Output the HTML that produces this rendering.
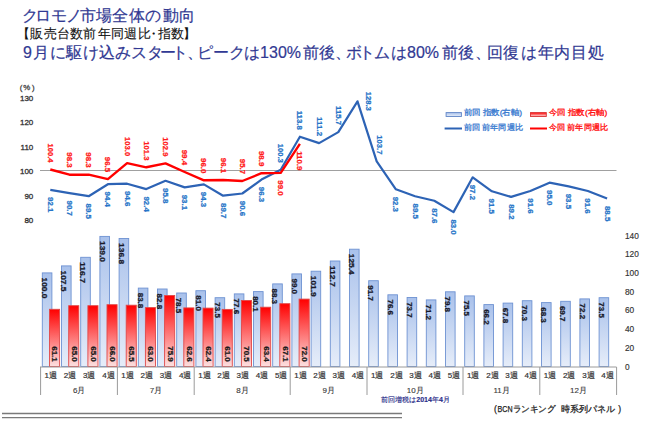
<!DOCTYPE html>
<html><head><meta charset="utf-8"><style>
html,body{margin:0;padding:0;background:#fff;}
body{width:650px;height:422px;overflow:hidden;position:relative;font-family:"Liberation Sans",sans-serif;}
.t{position:absolute;white-space:nowrap;line-height:1;}
svg{position:absolute;left:0;top:0;}
svg text{font-family:"Liberation Sans",sans-serif;}
</style></head><body>

<svg width="650" height="422" viewBox="0 0 650 422">
<defs>
<linearGradient id="gb" x1="0" y1="0" x2="0" y2="1"><stop offset="0" stop-color="#a9c1eb"/><stop offset="1" stop-color="#e6edf9"/></linearGradient>
<linearGradient id="gr" x1="0" y1="0" x2="0" y2="1"><stop offset="0" stop-color="#ff0000"/><stop offset="1" stop-color="#fce0e0"/></linearGradient>
</defs>
<text x="22 35.2 51.2 65.5 79.5 95.8 111.8 129.4 145.2 162.8 179.2" y="20.5" font-size="15.5" fill="#313993" stroke="#313993" stroke-width="0.2" font-weight="normal">クロモノ市場全体の動向</text>
<text x="16.6 29.8 43.7 56.8 70.1 83 98 110.8 124.2 137.5 146.9 158.4 170.6 183.2" y="37.5" font-size="12.5" fill="#111" stroke="#111" stroke-width="0.1" font-weight="normal">【販売台数前年同週比・指数】</text>
<text x="23 32.8 49.5 66.2 83.3 98.7 115.3 130.9 146.6 159.6 172 187.1 196.8 212.6 228.5 243.5 302.6 319.2 335.3 346.2 358.6 374.1 391.3 441.5 458.1 474.8 486.8 503.2 520.6 537.9 554.1 571.4 588.2" y="57.5" font-size="16" fill="#313993" stroke="#313993" stroke-width="0.2" font-weight="normal">9月に駆け込みスタート、ピークは前後、ボトムは前後、回復は年内目処</text>
<text x="260.1" y="57.5" font-size="16" fill="#313993" stroke="#313993" stroke-width="0.2" font-weight="normal">130%</text>
<text x="407" y="57.5" font-size="16" fill="#313993" stroke="#313993" stroke-width="0.2" font-weight="normal">80%</text>
<text x="33.3" y="100.7" font-size="8" fill="#333" stroke="#333" stroke-width="0.3" text-anchor="end">130</text>
<text x="33.3" y="125.2" font-size="8" fill="#333" stroke="#333" stroke-width="0.3" text-anchor="end">120</text>
<text x="33.3" y="149.6" font-size="8" fill="#333" stroke="#333" stroke-width="0.3" text-anchor="end">110</text>
<text x="33.3" y="174.1" font-size="8" fill="#333" stroke="#333" stroke-width="0.3" text-anchor="end">100</text>
<text x="33.3" y="198.6" font-size="8" fill="#333" stroke="#333" stroke-width="0.3" text-anchor="end">90</text>
<text x="33.3" y="223.0" font-size="8" fill="#333" stroke="#333" stroke-width="0.3" text-anchor="end">80</text>
<text x="19.8 23.2 32" y="90" font-size="7.8" fill="#444" stroke="#444" stroke-width="0.3">(%)</text>
<line x1="40" y1="170.5" x2="616.5" y2="170.5" stroke="#a0a0a0" stroke-width="1"/>
<rect x="42.3" y="272.9" width="9.6" height="93.6" fill="url(#gb)" stroke="#6e92d2" stroke-width="0.9"/>
<rect x="61.5" y="265.9" width="9.6" height="100.6" fill="url(#gb)" stroke="#6e92d2" stroke-width="0.9"/>
<rect x="80.7" y="257.3" width="9.6" height="109.2" fill="url(#gb)" stroke="#6e92d2" stroke-width="0.9"/>
<rect x="99.9" y="236.4" width="9.6" height="130.1" fill="url(#gb)" stroke="#6e92d2" stroke-width="0.9"/>
<rect x="119.1" y="238.5" width="9.6" height="128.0" fill="url(#gb)" stroke="#6e92d2" stroke-width="0.9"/>
<rect x="138.3" y="288.1" width="9.6" height="78.4" fill="url(#gb)" stroke="#6e92d2" stroke-width="0.9"/>
<rect x="157.5" y="289.0" width="9.6" height="77.5" fill="url(#gb)" stroke="#6e92d2" stroke-width="0.9"/>
<rect x="176.7" y="293.0" width="9.6" height="73.5" fill="url(#gb)" stroke="#6e92d2" stroke-width="0.9"/>
<rect x="195.9" y="290.7" width="9.6" height="75.8" fill="url(#gb)" stroke="#6e92d2" stroke-width="0.9"/>
<rect x="215.1" y="297.7" width="9.6" height="68.8" fill="url(#gb)" stroke="#6e92d2" stroke-width="0.9"/>
<rect x="234.3" y="293.9" width="9.6" height="72.6" fill="url(#gb)" stroke="#6e92d2" stroke-width="0.9"/>
<rect x="253.5" y="291.6" width="9.6" height="74.9" fill="url(#gb)" stroke="#6e92d2" stroke-width="0.9"/>
<rect x="272.7" y="283.9" width="9.6" height="82.6" fill="url(#gb)" stroke="#6e92d2" stroke-width="0.9"/>
<rect x="291.9" y="273.9" width="9.6" height="92.6" fill="url(#gb)" stroke="#6e92d2" stroke-width="0.9"/>
<rect x="311.1" y="271.2" width="9.6" height="95.3" fill="url(#gb)" stroke="#6e92d2" stroke-width="0.9"/>
<rect x="330.3" y="261.0" width="9.6" height="105.5" fill="url(#gb)" stroke="#6e92d2" stroke-width="0.9"/>
<rect x="349.5" y="249.2" width="9.6" height="117.3" fill="url(#gb)" stroke="#6e92d2" stroke-width="0.9"/>
<rect x="368.7" y="280.7" width="9.6" height="85.8" fill="url(#gb)" stroke="#6e92d2" stroke-width="0.9"/>
<rect x="387.9" y="294.8" width="9.6" height="71.7" fill="url(#gb)" stroke="#6e92d2" stroke-width="0.9"/>
<rect x="407.1" y="297.5" width="9.6" height="69.0" fill="url(#gb)" stroke="#6e92d2" stroke-width="0.9"/>
<rect x="426.3" y="299.9" width="9.6" height="66.6" fill="url(#gb)" stroke="#6e92d2" stroke-width="0.9"/>
<rect x="445.5" y="291.8" width="9.6" height="74.7" fill="url(#gb)" stroke="#6e92d2" stroke-width="0.9"/>
<rect x="464.7" y="295.9" width="9.6" height="70.6" fill="url(#gb)" stroke="#6e92d2" stroke-width="0.9"/>
<rect x="483.9" y="304.6" width="9.6" height="61.9" fill="url(#gb)" stroke="#6e92d2" stroke-width="0.9"/>
<rect x="503.1" y="303.1" width="9.6" height="63.4" fill="url(#gb)" stroke="#6e92d2" stroke-width="0.9"/>
<rect x="522.3" y="300.7" width="9.6" height="65.8" fill="url(#gb)" stroke="#6e92d2" stroke-width="0.9"/>
<rect x="541.5" y="302.6" width="9.6" height="63.9" fill="url(#gb)" stroke="#6e92d2" stroke-width="0.9"/>
<rect x="560.7" y="301.3" width="9.6" height="65.2" fill="url(#gb)" stroke="#6e92d2" stroke-width="0.9"/>
<rect x="579.9" y="298.9" width="9.6" height="67.6" fill="url(#gb)" stroke="#6e92d2" stroke-width="0.9"/>
<rect x="599.1" y="297.7" width="9.6" height="68.8" fill="url(#gb)" stroke="#6e92d2" stroke-width="0.9"/>
<rect x="49.5" y="309.3" width="10.1" height="57.2" fill="url(#gr)" stroke="#e04848" stroke-width="0.9"/>
<rect x="68.7" y="305.7" width="10.1" height="60.8" fill="url(#gr)" stroke="#e04848" stroke-width="0.9"/>
<rect x="87.9" y="305.7" width="10.1" height="60.8" fill="url(#gr)" stroke="#e04848" stroke-width="0.9"/>
<rect x="107.0" y="304.7" width="10.1" height="61.8" fill="url(#gr)" stroke="#e04848" stroke-width="0.9"/>
<rect x="126.2" y="305.2" width="10.1" height="61.3" fill="url(#gr)" stroke="#e04848" stroke-width="0.9"/>
<rect x="145.4" y="307.6" width="10.1" height="58.9" fill="url(#gr)" stroke="#e04848" stroke-width="0.9"/>
<rect x="164.6" y="295.5" width="10.1" height="71.0" fill="url(#gr)" stroke="#e04848" stroke-width="0.9"/>
<rect x="183.8" y="307.9" width="10.1" height="58.6" fill="url(#gr)" stroke="#e04848" stroke-width="0.9"/>
<rect x="203.0" y="308.1" width="10.1" height="58.4" fill="url(#gr)" stroke="#e04848" stroke-width="0.9"/>
<rect x="222.2" y="309.4" width="10.1" height="57.1" fill="url(#gr)" stroke="#e04848" stroke-width="0.9"/>
<rect x="241.4" y="300.5" width="10.1" height="66.0" fill="url(#gr)" stroke="#e04848" stroke-width="0.9"/>
<rect x="260.6" y="307.2" width="10.1" height="59.3" fill="url(#gr)" stroke="#e04848" stroke-width="0.9"/>
<rect x="279.8" y="303.7" width="10.1" height="62.8" fill="url(#gr)" stroke="#e04848" stroke-width="0.9"/>
<rect x="299.1" y="299.1" width="10.1" height="67.4" fill="url(#gr)" stroke="#e04848" stroke-width="0.9"/>
<text transform="translate(41.94,277.53) rotate(90)" font-size="8.0" font-weight="bold" fill="#1a1a2a" stroke="#1a1a2a" stroke-width="0.25" textLength="21.0" lengthAdjust="spacingAndGlyphs">100.0</text>
<text transform="translate(61.14,270.51) rotate(90)" font-size="8.0" font-weight="bold" fill="#1a1a2a" stroke="#1a1a2a" stroke-width="0.25" textLength="21.0" lengthAdjust="spacingAndGlyphs">107.5</text>
<text transform="translate(80.34,261.90) rotate(90)" font-size="8.0" font-weight="bold" fill="#1a1a2a" stroke="#1a1a2a" stroke-width="0.25" textLength="21.0" lengthAdjust="spacingAndGlyphs">116.7</text>
<text transform="translate(99.54,241.04) rotate(90)" font-size="8.0" font-weight="bold" fill="#1a1a2a" stroke="#1a1a2a" stroke-width="0.25" textLength="21.0" lengthAdjust="spacingAndGlyphs">139.0</text>
<text transform="translate(118.74,243.10) rotate(90)" font-size="8.0" font-weight="bold" fill="#1a1a2a" stroke="#1a1a2a" stroke-width="0.25" textLength="21.0" lengthAdjust="spacingAndGlyphs">136.8</text>
<text transform="translate(137.94,292.69) rotate(90)" font-size="8.0" font-weight="bold" fill="#1a1a2a" stroke="#1a1a2a" stroke-width="0.25" textLength="15.6" lengthAdjust="spacingAndGlyphs">83.8</text>
<text transform="translate(157.14,293.62) rotate(90)" font-size="8.0" font-weight="bold" fill="#1a1a2a" stroke="#1a1a2a" stroke-width="0.25" textLength="15.6" lengthAdjust="spacingAndGlyphs">82.8</text>
<text transform="translate(176.34,297.65) rotate(90)" font-size="8.0" font-weight="bold" fill="#1a1a2a" stroke="#1a1a2a" stroke-width="0.25" textLength="15.6" lengthAdjust="spacingAndGlyphs">78.5</text>
<text transform="translate(195.54,295.31) rotate(90)" font-size="8.0" font-weight="bold" fill="#1a1a2a" stroke="#1a1a2a" stroke-width="0.25" textLength="15.6" lengthAdjust="spacingAndGlyphs">81.0</text>
<text transform="translate(214.74,302.33) rotate(90)" font-size="8.0" font-weight="bold" fill="#1a1a2a" stroke="#1a1a2a" stroke-width="0.25" textLength="15.6" lengthAdjust="spacingAndGlyphs">73.5</text>
<text transform="translate(233.94,298.49) rotate(90)" font-size="8.0" font-weight="bold" fill="#1a1a2a" stroke="#1a1a2a" stroke-width="0.25" textLength="15.6" lengthAdjust="spacingAndGlyphs">77.6</text>
<text transform="translate(253.14,296.15) rotate(90)" font-size="8.0" font-weight="bold" fill="#1a1a2a" stroke="#1a1a2a" stroke-width="0.25" textLength="15.6" lengthAdjust="spacingAndGlyphs">80.1</text>
<text transform="translate(272.34,288.48) rotate(90)" font-size="8.0" font-weight="bold" fill="#1a1a2a" stroke="#1a1a2a" stroke-width="0.25" textLength="15.6" lengthAdjust="spacingAndGlyphs">88.3</text>
<text transform="translate(291.54,278.47) rotate(90)" font-size="8.0" font-weight="bold" fill="#1a1a2a" stroke="#1a1a2a" stroke-width="0.25" textLength="15.6" lengthAdjust="spacingAndGlyphs">99.0</text>
<text transform="translate(310.74,275.75) rotate(90)" font-size="8.0" font-weight="bold" fill="#1a1a2a" stroke="#1a1a2a" stroke-width="0.25" textLength="21.0" lengthAdjust="spacingAndGlyphs">101.9</text>
<text transform="translate(329.94,265.65) rotate(90)" font-size="8.0" font-weight="bold" fill="#1a1a2a" stroke="#1a1a2a" stroke-width="0.25" textLength="21.0" lengthAdjust="spacingAndGlyphs">112.7</text>
<text transform="translate(349.14,253.76) rotate(90)" font-size="8.0" font-weight="bold" fill="#1a1a2a" stroke="#1a1a2a" stroke-width="0.25" textLength="21.0" lengthAdjust="spacingAndGlyphs">125.4</text>
<text transform="translate(368.34,285.30) rotate(90)" font-size="8.0" font-weight="bold" fill="#1a1a2a" stroke="#1a1a2a" stroke-width="0.25" textLength="15.6" lengthAdjust="spacingAndGlyphs">91.7</text>
<text transform="translate(387.54,299.43) rotate(90)" font-size="8.0" font-weight="bold" fill="#1a1a2a" stroke="#1a1a2a" stroke-width="0.25" textLength="15.6" lengthAdjust="spacingAndGlyphs">76.6</text>
<text transform="translate(406.74,302.14) rotate(90)" font-size="8.0" font-weight="bold" fill="#1a1a2a" stroke="#1a1a2a" stroke-width="0.25" textLength="15.6" lengthAdjust="spacingAndGlyphs">73.7</text>
<text transform="translate(425.94,304.48) rotate(90)" font-size="8.0" font-weight="bold" fill="#1a1a2a" stroke="#1a1a2a" stroke-width="0.25" textLength="15.6" lengthAdjust="spacingAndGlyphs">71.2</text>
<text transform="translate(445.14,296.43) rotate(90)" font-size="8.0" font-weight="bold" fill="#1a1a2a" stroke="#1a1a2a" stroke-width="0.25" textLength="15.6" lengthAdjust="spacingAndGlyphs">79.8</text>
<text transform="translate(464.34,300.45) rotate(90)" font-size="8.0" font-weight="bold" fill="#1a1a2a" stroke="#1a1a2a" stroke-width="0.25" textLength="15.6" lengthAdjust="spacingAndGlyphs">75.5</text>
<text transform="translate(483.54,309.16) rotate(90)" font-size="8.0" font-weight="bold" fill="#1a1a2a" stroke="#1a1a2a" stroke-width="0.25" textLength="15.6" lengthAdjust="spacingAndGlyphs">66.2</text>
<text transform="translate(502.74,307.66) rotate(90)" font-size="8.0" font-weight="bold" fill="#1a1a2a" stroke="#1a1a2a" stroke-width="0.25" textLength="15.6" lengthAdjust="spacingAndGlyphs">67.8</text>
<text transform="translate(521.94,305.32) rotate(90)" font-size="8.0" font-weight="bold" fill="#1a1a2a" stroke="#1a1a2a" stroke-width="0.25" textLength="15.6" lengthAdjust="spacingAndGlyphs">70.3</text>
<text transform="translate(541.14,307.19) rotate(90)" font-size="8.0" font-weight="bold" fill="#1a1a2a" stroke="#1a1a2a" stroke-width="0.25" textLength="15.6" lengthAdjust="spacingAndGlyphs">68.3</text>
<text transform="translate(560.34,305.88) rotate(90)" font-size="8.0" font-weight="bold" fill="#1a1a2a" stroke="#1a1a2a" stroke-width="0.25" textLength="15.6" lengthAdjust="spacingAndGlyphs">69.7</text>
<text transform="translate(579.54,303.54) rotate(90)" font-size="8.0" font-weight="bold" fill="#1a1a2a" stroke="#1a1a2a" stroke-width="0.25" textLength="15.6" lengthAdjust="spacingAndGlyphs">72.2</text>
<text transform="translate(598.74,302.33) rotate(90)" font-size="8.0" font-weight="bold" fill="#1a1a2a" stroke="#1a1a2a" stroke-width="0.25" textLength="15.6" lengthAdjust="spacingAndGlyphs">73.5</text>
<text transform="translate(52.44,361.8) rotate(90)" font-size="8.0" font-weight="bold" fill="#1a1a1a" stroke="#1a1a1a" stroke-width="0.25" text-anchor="end" textLength="15.6" lengthAdjust="spacingAndGlyphs">61.1</text>
<text transform="translate(71.64,361.8) rotate(90)" font-size="8.0" font-weight="bold" fill="#1a1a1a" stroke="#1a1a1a" stroke-width="0.25" text-anchor="end" textLength="15.6" lengthAdjust="spacingAndGlyphs">65.0</text>
<text transform="translate(90.84,361.8) rotate(90)" font-size="8.0" font-weight="bold" fill="#1a1a1a" stroke="#1a1a1a" stroke-width="0.25" text-anchor="end" textLength="15.6" lengthAdjust="spacingAndGlyphs">65.0</text>
<text transform="translate(110.04,361.8) rotate(90)" font-size="8.0" font-weight="bold" fill="#1a1a1a" stroke="#1a1a1a" stroke-width="0.25" text-anchor="end" textLength="15.6" lengthAdjust="spacingAndGlyphs">66.0</text>
<text transform="translate(129.24,361.8) rotate(90)" font-size="8.0" font-weight="bold" fill="#1a1a1a" stroke="#1a1a1a" stroke-width="0.25" text-anchor="end" textLength="15.6" lengthAdjust="spacingAndGlyphs">65.5</text>
<text transform="translate(148.44,361.8) rotate(90)" font-size="8.0" font-weight="bold" fill="#1a1a1a" stroke="#1a1a1a" stroke-width="0.25" text-anchor="end" textLength="15.6" lengthAdjust="spacingAndGlyphs">63.0</text>
<text transform="translate(167.64,361.8) rotate(90)" font-size="8.0" font-weight="bold" fill="#1a1a1a" stroke="#1a1a1a" stroke-width="0.25" text-anchor="end" textLength="15.6" lengthAdjust="spacingAndGlyphs">75.9</text>
<text transform="translate(186.84,361.8) rotate(90)" font-size="8.0" font-weight="bold" fill="#1a1a1a" stroke="#1a1a1a" stroke-width="0.25" text-anchor="end" textLength="15.6" lengthAdjust="spacingAndGlyphs">62.6</text>
<text transform="translate(206.04,361.8) rotate(90)" font-size="8.0" font-weight="bold" fill="#1a1a1a" stroke="#1a1a1a" stroke-width="0.25" text-anchor="end" textLength="15.6" lengthAdjust="spacingAndGlyphs">62.4</text>
<text transform="translate(225.24,361.8) rotate(90)" font-size="8.0" font-weight="bold" fill="#1a1a1a" stroke="#1a1a1a" stroke-width="0.25" text-anchor="end" textLength="15.6" lengthAdjust="spacingAndGlyphs">61.0</text>
<text transform="translate(244.44,361.8) rotate(90)" font-size="8.0" font-weight="bold" fill="#1a1a1a" stroke="#1a1a1a" stroke-width="0.25" text-anchor="end" textLength="15.6" lengthAdjust="spacingAndGlyphs">70.5</text>
<text transform="translate(263.64,361.8) rotate(90)" font-size="8.0" font-weight="bold" fill="#1a1a1a" stroke="#1a1a1a" stroke-width="0.25" text-anchor="end" textLength="15.6" lengthAdjust="spacingAndGlyphs">63.4</text>
<text transform="translate(282.84,361.8) rotate(90)" font-size="8.0" font-weight="bold" fill="#1a1a1a" stroke="#1a1a1a" stroke-width="0.25" text-anchor="end" textLength="15.6" lengthAdjust="spacingAndGlyphs">67.1</text>
<text transform="translate(302.04,361.8) rotate(90)" font-size="8.0" font-weight="bold" fill="#1a1a1a" stroke="#1a1a1a" stroke-width="0.25" text-anchor="end" textLength="15.6" lengthAdjust="spacingAndGlyphs">72.0</text>
<line x1="40" y1="367" x2="616.5" y2="367" stroke="#9a9a9a" stroke-width="1"/>
<line x1="40.6" y1="367" x2="40.6" y2="395" stroke="#9a9a9a" stroke-width="1"/>
<text x="79.2" y="393" font-size="8" fill="#3a3a3a" stroke="#3a3a3a" stroke-width="0.12" text-anchor="middle">6月</text>
<text x="50.8" y="378" font-size="8" fill="#333" stroke="#333" stroke-width="0.2" text-anchor="middle">1週</text>
<text x="70.0" y="378" font-size="8" fill="#333" stroke="#333" stroke-width="0.2" text-anchor="middle">2週</text>
<text x="89.2" y="378" font-size="8" fill="#333" stroke="#333" stroke-width="0.2" text-anchor="middle">3週</text>
<text x="108.4" y="378" font-size="8" fill="#333" stroke="#333" stroke-width="0.2" text-anchor="middle">4週</text>
<line x1="117.4" y1="367" x2="117.4" y2="395" stroke="#9a9a9a" stroke-width="1"/>
<text x="156.0" y="393" font-size="8" fill="#3a3a3a" stroke="#3a3a3a" stroke-width="0.12" text-anchor="middle">7月</text>
<text x="127.6" y="378" font-size="8" fill="#333" stroke="#333" stroke-width="0.2" text-anchor="middle">1週</text>
<text x="146.8" y="378" font-size="8" fill="#333" stroke="#333" stroke-width="0.2" text-anchor="middle">2週</text>
<text x="166.0" y="378" font-size="8" fill="#333" stroke="#333" stroke-width="0.2" text-anchor="middle">3週</text>
<text x="185.2" y="378" font-size="8" fill="#333" stroke="#333" stroke-width="0.2" text-anchor="middle">4週</text>
<line x1="194.2" y1="367" x2="194.2" y2="395" stroke="#9a9a9a" stroke-width="1"/>
<text x="242.4" y="393" font-size="8" fill="#3a3a3a" stroke="#3a3a3a" stroke-width="0.12" text-anchor="middle">8月</text>
<text x="204.4" y="378" font-size="8" fill="#333" stroke="#333" stroke-width="0.2" text-anchor="middle">1週</text>
<text x="223.6" y="378" font-size="8" fill="#333" stroke="#333" stroke-width="0.2" text-anchor="middle">2週</text>
<text x="242.8" y="378" font-size="8" fill="#333" stroke="#333" stroke-width="0.2" text-anchor="middle">3週</text>
<text x="262.0" y="378" font-size="8" fill="#333" stroke="#333" stroke-width="0.2" text-anchor="middle">4週</text>
<text x="281.2" y="378" font-size="8" fill="#333" stroke="#333" stroke-width="0.2" text-anchor="middle">5週</text>
<line x1="290.2" y1="367" x2="290.2" y2="395" stroke="#9a9a9a" stroke-width="1"/>
<text x="328.8" y="393" font-size="8" fill="#3a3a3a" stroke="#3a3a3a" stroke-width="0.12" text-anchor="middle">9月</text>
<text x="300.4" y="378" font-size="8" fill="#333" stroke="#333" stroke-width="0.2" text-anchor="middle">1週</text>
<text x="319.6" y="378" font-size="8" fill="#333" stroke="#333" stroke-width="0.2" text-anchor="middle">2週</text>
<text x="338.8" y="378" font-size="8" fill="#333" stroke="#333" stroke-width="0.2" text-anchor="middle">3週</text>
<text x="358.0" y="378" font-size="8" fill="#333" stroke="#333" stroke-width="0.2" text-anchor="middle">4週</text>
<line x1="367.0" y1="367" x2="367.0" y2="395" stroke="#9a9a9a" stroke-width="1"/>
<text x="415.2" y="393" font-size="8" fill="#3a3a3a" stroke="#3a3a3a" stroke-width="0.12" text-anchor="middle">10月</text>
<text x="377.2" y="378" font-size="8" fill="#333" stroke="#333" stroke-width="0.2" text-anchor="middle">1週</text>
<text x="396.4" y="378" font-size="8" fill="#333" stroke="#333" stroke-width="0.2" text-anchor="middle">2週</text>
<text x="415.6" y="378" font-size="8" fill="#333" stroke="#333" stroke-width="0.2" text-anchor="middle">3週</text>
<text x="434.8" y="378" font-size="8" fill="#333" stroke="#333" stroke-width="0.2" text-anchor="middle">4週</text>
<text x="454.0" y="378" font-size="8" fill="#333" stroke="#333" stroke-width="0.2" text-anchor="middle">5週</text>
<line x1="463.0" y1="367" x2="463.0" y2="395" stroke="#9a9a9a" stroke-width="1"/>
<text x="501.6" y="393" font-size="8" fill="#3a3a3a" stroke="#3a3a3a" stroke-width="0.12" text-anchor="middle">11月</text>
<text x="473.2" y="378" font-size="8" fill="#333" stroke="#333" stroke-width="0.2" text-anchor="middle">1週</text>
<text x="492.4" y="378" font-size="8" fill="#333" stroke="#333" stroke-width="0.2" text-anchor="middle">2週</text>
<text x="511.6" y="378" font-size="8" fill="#333" stroke="#333" stroke-width="0.2" text-anchor="middle">3週</text>
<text x="530.8" y="378" font-size="8" fill="#333" stroke="#333" stroke-width="0.2" text-anchor="middle">4週</text>
<line x1="539.8" y1="367" x2="539.8" y2="395" stroke="#9a9a9a" stroke-width="1"/>
<text x="578.4" y="393" font-size="8" fill="#3a3a3a" stroke="#3a3a3a" stroke-width="0.12" text-anchor="middle">12月</text>
<text x="550.0" y="378" font-size="8" fill="#333" stroke="#333" stroke-width="0.2" text-anchor="middle">1週</text>
<text x="569.2" y="378" font-size="8" fill="#333" stroke="#333" stroke-width="0.2" text-anchor="middle">2週</text>
<text x="588.4" y="378" font-size="8" fill="#333" stroke="#333" stroke-width="0.2" text-anchor="middle">3週</text>
<text x="607.6" y="378" font-size="8" fill="#333" stroke="#333" stroke-width="0.2" text-anchor="middle">4週</text>
<line x1="616.6" y1="367" x2="616.6" y2="395" stroke="#9a9a9a" stroke-width="1"/>
<text x="625" y="369.5" font-size="8.3" fill="#333" stroke="#333" stroke-width="0.15">0</text>
<text x="625" y="350.8" font-size="8.3" fill="#333" stroke="#333" stroke-width="0.15">20</text>
<text x="625" y="332.1" font-size="8.3" fill="#333" stroke="#333" stroke-width="0.15">40</text>
<text x="625" y="313.4" font-size="8.3" fill="#333" stroke="#333" stroke-width="0.15">60</text>
<text x="625" y="294.6" font-size="8.3" fill="#333" stroke="#333" stroke-width="0.15">80</text>
<text x="625" y="275.9" font-size="8.3" fill="#333" stroke="#333" stroke-width="0.15">100</text>
<text x="625" y="257.2" font-size="8.3" fill="#333" stroke="#333" stroke-width="0.15">120</text>
<text x="625" y="238.5" font-size="8.3" fill="#333" stroke="#333" stroke-width="0.15">140</text>
<polyline points="50.3,189.8 69.5,193.2 88.7,196.2 107.9,184.2 127.1,183.7 146.3,189.1 165.5,180.8 184.7,187.4 203.9,184.4 223.1,195.7 242.3,193.5 261.5,179.6 280.7,169.8 299.9,136.7 319.1,143.1 338.3,132.1 357.5,101.3 376.7,161.4 395.9,189.3 415.1,196.2 434.3,200.8 453.5,212.1 472.7,177.3 491.9,191.3 511.1,196.9 530.3,191.0 549.5,182.7 568.7,186.4 587.9,191.0 607.1,198.6" fill="none" stroke="#2d63b5" stroke-width="2.2" stroke-linejoin="round"/>
<polyline points="50.3,169.5 69.5,174.7 88.7,174.7 107.9,179.1 127.1,163.2 146.3,167.3 165.5,163.4 184.7,172.0 203.9,180.3 223.1,180.0 242.3,181.0 261.5,173.2 280.7,172.9 299.9,143.8" fill="none" stroke="#ff0000" stroke-width="2.4" stroke-linejoin="round"/>
<text transform="translate(47.74,197.12) rotate(90)" font-size="8.0" font-weight="bold" fill="#2674c8" stroke="#2674c8" stroke-width="0.25" textLength="15.4" lengthAdjust="spacingAndGlyphs">92.1</text>
<text transform="translate(66.94,200.55) rotate(90)" font-size="8.0" font-weight="bold" fill="#2674c8" stroke="#2674c8" stroke-width="0.25" textLength="15.4" lengthAdjust="spacingAndGlyphs">90.7</text>
<text transform="translate(86.14,203.48) rotate(90)" font-size="8.0" font-weight="bold" fill="#2674c8" stroke="#2674c8" stroke-width="0.25" textLength="15.4" lengthAdjust="spacingAndGlyphs">89.5</text>
<text transform="translate(105.34,191.50) rotate(90)" font-size="8.0" font-weight="bold" fill="#2674c8" stroke="#2674c8" stroke-width="0.25" textLength="15.4" lengthAdjust="spacingAndGlyphs">94.4</text>
<text transform="translate(124.54,191.01) rotate(90)" font-size="8.0" font-weight="bold" fill="#2674c8" stroke="#2674c8" stroke-width="0.25" textLength="15.4" lengthAdjust="spacingAndGlyphs">94.6</text>
<text transform="translate(143.74,196.39) rotate(90)" font-size="8.0" font-weight="bold" fill="#2674c8" stroke="#2674c8" stroke-width="0.25" textLength="15.4" lengthAdjust="spacingAndGlyphs">92.4</text>
<text transform="translate(162.94,188.07) rotate(90)" font-size="8.0" font-weight="bold" fill="#2674c8" stroke="#2674c8" stroke-width="0.25" textLength="15.4" lengthAdjust="spacingAndGlyphs">95.8</text>
<text transform="translate(182.14,194.68) rotate(90)" font-size="8.0" font-weight="bold" fill="#2674c8" stroke="#2674c8" stroke-width="0.25" textLength="15.4" lengthAdjust="spacingAndGlyphs">93.1</text>
<text transform="translate(201.34,191.74) rotate(90)" font-size="8.0" font-weight="bold" fill="#2674c8" stroke="#2674c8" stroke-width="0.25" textLength="15.4" lengthAdjust="spacingAndGlyphs">94.3</text>
<text transform="translate(220.54,202.99) rotate(90)" font-size="8.0" font-weight="bold" fill="#2674c8" stroke="#2674c8" stroke-width="0.25" textLength="15.4" lengthAdjust="spacingAndGlyphs">89.7</text>
<text transform="translate(239.74,200.79) rotate(90)" font-size="8.0" font-weight="bold" fill="#2674c8" stroke="#2674c8" stroke-width="0.25" textLength="15.4" lengthAdjust="spacingAndGlyphs">90.6</text>
<text transform="translate(258.94,186.85) rotate(90)" font-size="8.0" font-weight="bold" fill="#2674c8" stroke="#2674c8" stroke-width="0.25" textLength="15.4" lengthAdjust="spacingAndGlyphs">96.3</text>
<text transform="translate(278.14,162.87) rotate(90)" font-size="8.0" font-weight="bold" fill="#2674c8" stroke="#2674c8" stroke-width="0.25" textLength="19.2" lengthAdjust="spacingAndGlyphs" text-anchor="end">100.3</text>
<text transform="translate(297.34,129.85) rotate(90)" font-size="8.0" font-weight="bold" fill="#2674c8" stroke="#2674c8" stroke-width="0.25" textLength="19.2" lengthAdjust="spacingAndGlyphs" text-anchor="end">113.8</text>
<text transform="translate(316.54,136.20) rotate(90)" font-size="8.0" font-weight="bold" fill="#2674c8" stroke="#2674c8" stroke-width="0.25" textLength="19.2" lengthAdjust="spacingAndGlyphs" text-anchor="end">111.2</text>
<text transform="translate(335.74,125.20) rotate(90)" font-size="8.0" font-weight="bold" fill="#2674c8" stroke="#2674c8" stroke-width="0.25" textLength="19.2" lengthAdjust="spacingAndGlyphs" text-anchor="end">115.7</text>
<text transform="translate(365.94,91.68) rotate(90)" font-size="8.0" font-weight="bold" fill="#2674c8" stroke="#2674c8" stroke-width="0.25" textLength="19.2" lengthAdjust="spacingAndGlyphs">128.3</text>
<text transform="translate(376.84,154.45) rotate(90)" font-size="8.0" font-weight="bold" fill="#2674c8" stroke="#2674c8" stroke-width="0.25" textLength="19.2" lengthAdjust="spacingAndGlyphs" text-anchor="end">103.7</text>
<text transform="translate(393.34,196.63) rotate(90)" font-size="8.0" font-weight="bold" fill="#2674c8" stroke="#2674c8" stroke-width="0.25" textLength="15.4" lengthAdjust="spacingAndGlyphs">92.3</text>
<text transform="translate(412.54,203.48) rotate(90)" font-size="8.0" font-weight="bold" fill="#2674c8" stroke="#2674c8" stroke-width="0.25" textLength="15.4" lengthAdjust="spacingAndGlyphs">89.5</text>
<text transform="translate(431.74,208.13) rotate(90)" font-size="8.0" font-weight="bold" fill="#2674c8" stroke="#2674c8" stroke-width="0.25" textLength="15.4" lengthAdjust="spacingAndGlyphs">87.6</text>
<text transform="translate(450.94,219.38) rotate(90)" font-size="8.0" font-weight="bold" fill="#2674c8" stroke="#2674c8" stroke-width="0.25" textLength="15.4" lengthAdjust="spacingAndGlyphs">83.0</text>
<text transform="translate(470.14,184.65) rotate(90)" font-size="8.0" font-weight="bold" fill="#2674c8" stroke="#2674c8" stroke-width="0.25" textLength="15.4" lengthAdjust="spacingAndGlyphs">97.2</text>
<text transform="translate(489.34,198.59) rotate(90)" font-size="8.0" font-weight="bold" fill="#2674c8" stroke="#2674c8" stroke-width="0.25" textLength="15.4" lengthAdjust="spacingAndGlyphs">91.5</text>
<text transform="translate(508.54,204.22) rotate(90)" font-size="8.0" font-weight="bold" fill="#2674c8" stroke="#2674c8" stroke-width="0.25" textLength="15.4" lengthAdjust="spacingAndGlyphs">89.2</text>
<text transform="translate(527.74,198.35) rotate(90)" font-size="8.0" font-weight="bold" fill="#2674c8" stroke="#2674c8" stroke-width="0.25" textLength="15.4" lengthAdjust="spacingAndGlyphs">91.6</text>
<text transform="translate(546.94,190.03) rotate(90)" font-size="8.0" font-weight="bold" fill="#2674c8" stroke="#2674c8" stroke-width="0.25" textLength="15.4" lengthAdjust="spacingAndGlyphs">95.0</text>
<text transform="translate(566.14,193.70) rotate(90)" font-size="8.0" font-weight="bold" fill="#2674c8" stroke="#2674c8" stroke-width="0.25" textLength="15.4" lengthAdjust="spacingAndGlyphs">93.5</text>
<text transform="translate(585.34,198.35) rotate(90)" font-size="8.0" font-weight="bold" fill="#2674c8" stroke="#2674c8" stroke-width="0.25" textLength="15.4" lengthAdjust="spacingAndGlyphs">91.6</text>
<text transform="translate(604.54,205.93) rotate(90)" font-size="8.0" font-weight="bold" fill="#2674c8" stroke="#2674c8" stroke-width="0.25" textLength="15.4" lengthAdjust="spacingAndGlyphs">88.5</text>
<text transform="translate(47.74,162.62) rotate(90)" font-size="8.0" font-weight="bold" fill="#ff1a1a" stroke="#ff1a1a" stroke-width="0.25" textLength="19.2" lengthAdjust="spacingAndGlyphs" text-anchor="end">100.4</text>
<text transform="translate(66.94,167.76) rotate(90)" font-size="8.0" font-weight="bold" fill="#ff1a1a" stroke="#ff1a1a" stroke-width="0.25" textLength="15.4" lengthAdjust="spacingAndGlyphs" text-anchor="end">98.3</text>
<text transform="translate(86.14,167.76) rotate(90)" font-size="8.0" font-weight="bold" fill="#ff1a1a" stroke="#ff1a1a" stroke-width="0.25" textLength="15.4" lengthAdjust="spacingAndGlyphs" text-anchor="end">98.3</text>
<text transform="translate(105.34,172.16) rotate(90)" font-size="8.0" font-weight="bold" fill="#ff1a1a" stroke="#ff1a1a" stroke-width="0.25" textLength="15.4" lengthAdjust="spacingAndGlyphs" text-anchor="end">96.5</text>
<text transform="translate(124.54,156.26) rotate(90)" font-size="8.0" font-weight="bold" fill="#ff1a1a" stroke="#ff1a1a" stroke-width="0.25" textLength="19.2" lengthAdjust="spacingAndGlyphs" text-anchor="end">103.0</text>
<text transform="translate(143.74,160.42) rotate(90)" font-size="8.0" font-weight="bold" fill="#ff1a1a" stroke="#ff1a1a" stroke-width="0.25" textLength="19.2" lengthAdjust="spacingAndGlyphs" text-anchor="end">101.3</text>
<text transform="translate(162.94,156.51) rotate(90)" font-size="8.0" font-weight="bold" fill="#ff1a1a" stroke="#ff1a1a" stroke-width="0.25" textLength="19.2" lengthAdjust="spacingAndGlyphs" text-anchor="end">102.9</text>
<text transform="translate(182.14,165.07) rotate(90)" font-size="8.0" font-weight="bold" fill="#ff1a1a" stroke="#ff1a1a" stroke-width="0.25" textLength="15.4" lengthAdjust="spacingAndGlyphs" text-anchor="end">99.4</text>
<text transform="translate(201.34,173.38) rotate(90)" font-size="8.0" font-weight="bold" fill="#ff1a1a" stroke="#ff1a1a" stroke-width="0.25" textLength="15.4" lengthAdjust="spacingAndGlyphs" text-anchor="end">96.0</text>
<text transform="translate(220.54,173.14) rotate(90)" font-size="8.0" font-weight="bold" fill="#ff1a1a" stroke="#ff1a1a" stroke-width="0.25" textLength="15.4" lengthAdjust="spacingAndGlyphs" text-anchor="end">96.1</text>
<text transform="translate(239.74,174.12) rotate(90)" font-size="8.0" font-weight="bold" fill="#ff1a1a" stroke="#ff1a1a" stroke-width="0.25" textLength="15.4" lengthAdjust="spacingAndGlyphs" text-anchor="end">95.7</text>
<text transform="translate(258.94,166.29) rotate(90)" font-size="8.0" font-weight="bold" fill="#ff1a1a" stroke="#ff1a1a" stroke-width="0.25" textLength="15.4" lengthAdjust="spacingAndGlyphs" text-anchor="end">98.9</text>
<text transform="translate(278.14,180.25) rotate(90)" font-size="8.0" font-weight="bold" fill="#ff1a1a" stroke="#ff1a1a" stroke-width="0.25" textLength="15.4" lengthAdjust="spacingAndGlyphs">99.0</text>
<text transform="translate(297.34,151.14) rotate(90)" font-size="8.0" font-weight="bold" fill="#ff1a1a" stroke="#ff1a1a" stroke-width="0.25" textLength="19.2" lengthAdjust="spacingAndGlyphs">110.9</text>
<rect x="446.1" y="112.6" width="15.3" height="3.9" fill="url(#gb)" stroke="#5f84c6" stroke-width="0.9"/>
<rect x="530.5" y="112.6" width="15.8" height="3.9" fill="url(#gr)" stroke="#d83030" stroke-width="0.9"/>
<line x1="444.6" y1="128.5" x2="462" y2="128.5" stroke="#2d63b5" stroke-width="2"/>
<line x1="530" y1="128.5" x2="547" y2="128.5" stroke="#ff0000" stroke-width="2"/>
<text x="463.6" y="114.8" font-size="8" stroke-width="0.3" lengthAdjust="spacingAndGlyphs" fill="#3a7bd0" stroke="#3a7bd0" textLength="58.6">前回 指数(右軸)</text>
<text x="463.6" y="129.8" font-size="8" stroke-width="0.3" lengthAdjust="spacingAndGlyphs" fill="#3a7bd0" stroke="#3a7bd0" textLength="59.2">前回 前年同週比</text>
<text x="548.8" y="114.8" font-size="8" stroke-width="0.3" lengthAdjust="spacingAndGlyphs" fill="#ff1010" stroke="#ff1010" textLength="58.6">今回 指数(右軸)</text>
<text x="548.8" y="129.8" font-size="8" stroke-width="0.3" lengthAdjust="spacingAndGlyphs" fill="#ff1010" stroke="#ff1010" textLength="59.2">今回 前年同週比</text>
<text x="381" y="401.8" font-size="7" fill="#2b2f8a" stroke="#2b2f8a" stroke-width="0.15" textLength="69" lengthAdjust="spacingAndGlyphs">前回増税は<tspan font-weight="bold">2014</tspan>年<tspan font-weight="bold">4</tspan>月</text>
<text x="494" y="412" font-size="8.6" fill="#222" stroke="#222" stroke-width="0.25" lengthAdjust="spacingAndGlyphs">(</text>
<text x="497.6" y="412" font-size="8.6" fill="#222" stroke="#222" stroke-width="0.25" lengthAdjust="spacingAndGlyphs" textLength="15">BCN</text>
<text x="512.6" y="412" font-size="8.6" fill="#222" stroke="#222" stroke-width="0.25" lengthAdjust="spacingAndGlyphs" textLength="43">ランキング</text>
<text x="561" y="412" font-size="8.6" fill="#222" stroke="#222" stroke-width="0.25" lengthAdjust="spacingAndGlyphs" textLength="54">時系列パネル</text>
<text x="618.2" y="412" font-size="8.6" fill="#222" stroke="#222" stroke-width="0.25" lengthAdjust="spacingAndGlyphs">)</text>
<line x1="2" y1="413.5" x2="402" y2="413.5" stroke="#7a7a7a" stroke-width="1.4"/>
<line x1="2" y1="417.6" x2="402" y2="417.6" stroke="#7a7a7a" stroke-width="1.4"/>
</svg>
</body></html>
